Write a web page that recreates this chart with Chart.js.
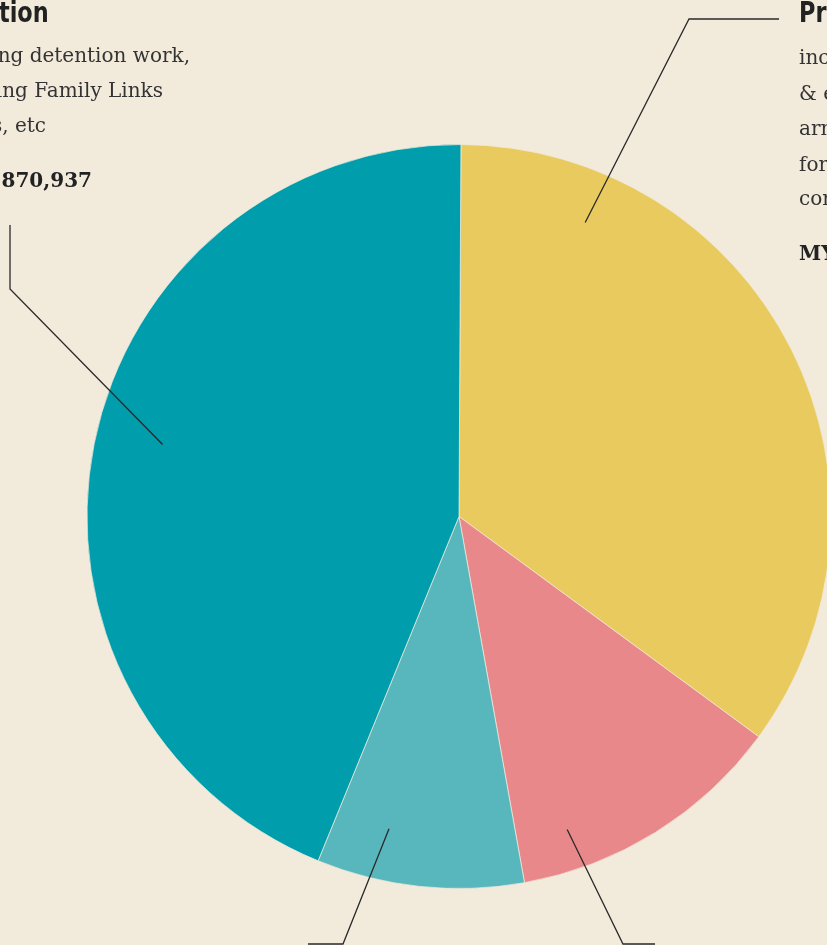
<!DOCTYPE html>
<html>
<head>
<meta charset="utf-8">
<script src="https://cdn.jsdelivr.net/npm/chart.js@4"></script>
<style>
  html, body { margin: 0; padding: 0; }
  body { width: 827px; height: 945px; overflow: hidden; background: #f2ebdc; position: relative; }
  #pieChart { position: absolute; left: 0; top: 0; }
  .t { position: absolute; white-space: nowrap; color: #333; font-family: "DejaVu Serif", serif; font-size: 20px; line-height: 24px; }
  .ttl { font-family: "DejaVu Sans", "Roboto", sans-serif; font-weight: bold; font-size: 28px; line-height: 30px; color: #222; transform: scaleX(0.8); }
  .left { text-align: right; }
  .left.ttl { transform-origin: right center; }
  .right { text-align: left; }
  .right.ttl { transform-origin: left center; }
  .amt { font-weight: bold; color: #222; font-size: 20px; }
</style>
</head>
<body>
<canvas id="pieChart" width="918" height="1033"></canvas>

<!-- left label block, clipped by the page edge -->
<div class="t ttl left" style="right: 778px; top: -2px;">Protection</div>
<div class="t left" style="right: 637px; top: 43px;">including detention work,</div>
<div class="t left" style="right: 664px; top: 78px;">restoring Family Links</div>
<div class="t left" style="right: 781px; top: 113px;">services, etc</div>
<div class="t amt left" style="right: 735px; top: 168px;">MYR 3,870,937</div>

<!-- right label block, clipped by the page edge -->
<div class="t ttl right" style="left: 799px; top: -2px;">Prevention</div>
<div class="t right" style="left: 799px; top: 45px;">including promotion of IHL</div>
<div class="t right" style="left: 799px; top: 81px;">&amp; engagement with</div>
<div class="t right" style="left: 799px; top: 116px;">armed forces, security</div>
<div class="t right" style="left: 799px; top: 152px;">forces and local</div>
<div class="t right" style="left: 799px; top: 186px;">communities</div>
<div class="t amt right" style="left: 799px; top: 241px;">MYR 3,094,000</div>

<script>
// slices, clockwise from 12 o'clock (share of budget, %)
const categories = ['Prevention', 'Assistance', 'Cooperation', 'Protection'];
const shares = [35.0, 12.1, 9.0, 43.9];
const sliceColors = ['#e9ca5e', '#e8888a', '#58b7bd', '#009dad'];

// leader lines: start inside a slice (fraction along arc, fraction of radius), then elbow points
const leaders = [
    { index: 0, along: 0.182, rFrac: 0.86, pts: [[689, 19], [779, 19]] },
    { index: 1, along: 0.795, rFrac: 0.89, pts: [[623, 944], [655, 944]] },
    { index: 2, along: 0.703, rFrac: 0.86, pts: [[343, 944], [308, 944]] },
    { index: 3, along: 0.515, rFrac: 0.82, pts: [[10, 289], [10, 225]] }
];

const leaderPlugin = {
    id: 'leaders',
    afterDatasetsDraw(chart) {
        const ctx = chart.ctx;
        const arcs = chart.getDatasetMeta(0).data;
        ctx.save();
        ctx.strokeStyle = '#2a2a2a';
        ctx.lineWidth = 1.3;
        leaders.forEach(l => {
            const arc = arcs[l.index];
            const a = arc.startAngle + (arc.endAngle - arc.startAngle) * l.along;
            const r = arc.outerRadius * l.rFrac;
            ctx.beginPath();
            ctx.moveTo(arc.x + Math.cos(a) * r, arc.y + Math.sin(a) * r);
            l.pts.forEach(p => ctx.lineTo(p[0], p[1]));
            ctx.stroke();
        });
        ctx.restore();
    }
};

const ctx = document.getElementById('pieChart').getContext('2d');
new Chart(ctx, {
    type: 'pie',
    data: {
        labels: categories,
        datasets: [{
            data: shares,
            backgroundColor: sliceColors,
            borderColor: 'rgba(242, 235, 220, 0.7)',
            borderWidth: 1
        }]
    },
    options: {
        responsive: false,
        animation: false,
        rotation: 0.3,
        radius: 372,
        layout: { padding: 0 },
        plugins: {
            legend: { display: false },
            tooltip: { enabled: false }
        }
    },
    plugins: [leaderPlugin]
});
</script>
</body>
</html>
